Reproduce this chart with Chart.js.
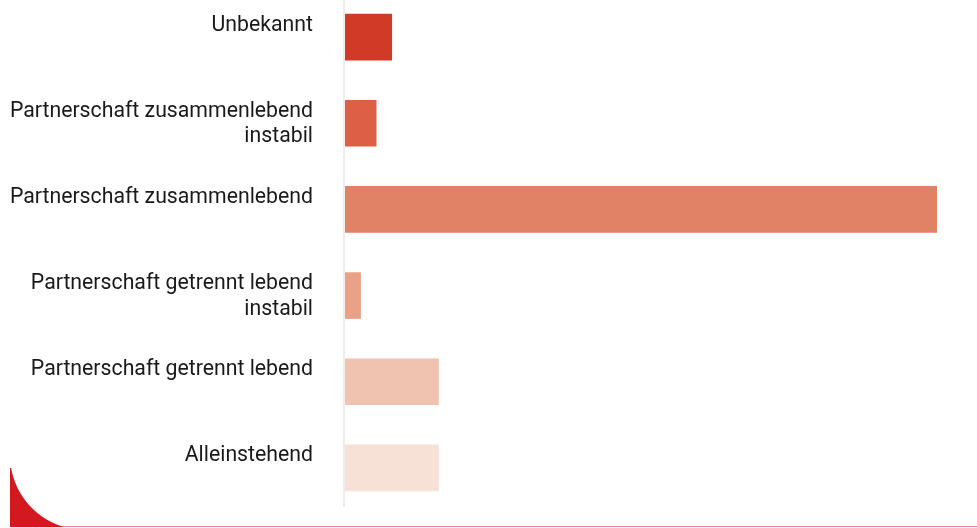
<!DOCTYPE html>
<html lang="de">
<head>
<meta charset="utf-8">
<title>Lebenssituation</title>
<script src="https://cdn.jsdelivr.net/npm/chart.js@4/dist/chart.umd.min.js"></script>
<style>
  html, body { margin: 0; padding: 0; background: #fff; }
  .frame { position: relative; width: 977px; height: 528px; overflow: hidden; }
  .plot { position: absolute; left: 0; top: -6px; width: 977px; height: 517px; }
  /* thin rule along the bottom of the card */
  .rule { position: absolute; left: 10px; right: 0; top: 526px; height: 1px; background: #e48a8a; }
  /* red corner ornament */
  .corner {
    position: absolute; left: 10px; top: 468px; width: 57px; height: 59px;
    background: radial-gradient(circle 75px at 75px -13px, transparent 74.5px, #d1191f 75.5px);
  }
</style>
</head>
<body>
<div class="frame">
  <div class="plot"><canvas id="myChart"></canvas></div>
  <div class="rule"></div>
  <div class="corner"></div>
</div>
<script>
// categories (multi-line labels) and their counts
const categories = [
  ['Unbekannt'],
  ['Partnerschaft zusammenlebend', 'instabil'],
  ['Partnerschaft zusammenlebend'],
  ['Partnerschaft getrennt lebend', 'instabil'],
  ['Partnerschaft getrennt lebend'],
  ['Alleinstehend']
];
const counts = [3, 2, 38, 1, 6, 6];
const barColors = ['#d23a28', '#dd5f45', '#e18166', '#e9a287', '#f0c2b0', '#f7e1d7'];

const BAR = 46;

// left axis line plus right-aligned labels sitting at the top of each bar
const sideLabels = {
  id: 'sideLabels',
  beforeDatasetsDraw(chart) {
    const { ctx, chartArea, scales } = chart;
    ctx.save();
    ctx.strokeStyle = '#f1ebeb';
    ctx.lineWidth = 2;
    ctx.beginPath();
    ctx.moveTo(chartArea.left - 1, chartArea.top);
    ctx.lineTo(chartArea.left - 1, chartArea.bottom - 4);
    ctx.stroke();

    ctx.font = '21.25px Roboto';
    ctx.fillStyle = '#1a1a1a';
    ctx.textAlign = 'right';
    ctx.textBaseline = 'alphabetic';
    const x = chartArea.left - 32;
    chart.data.labels.forEach((lines, i) => {
      const top = scales.y.getPixelForValue(i) - BAR / 2;
      lines.forEach((line, j) => ctx.fillText(line, x, top + 16.5 + j * 25.5));
    });
    ctx.restore();
  }
};

function draw() {
  const ctx = document.getElementById('myChart').getContext('2d');
  new Chart(ctx, {
    type: 'bar',
    data: {
      labels: categories,
      datasets: [{
        data: counts,
        backgroundColor: barColors,
        barThickness: BAR,
        borderWidth: 0
      }]
    },
    options: {
      indexAxis: 'y',
      responsive: true,
      maintainAspectRatio: false,
      animation: false,
      layout: { padding: { left: 345, right: 40, top: 0, bottom: 0 } },
      plugins: {
        legend: { display: false },
        tooltip: { enabled: false }
      },
      scales: {
        x: { display: false, min: 0, max: 38 },
        y: { display: false, offset: true }
      }
    },
    plugins: [sideLabels]
  });
}

document.fonts.load('21px Roboto').then(draw, draw);
</script>
</body>
</html>
